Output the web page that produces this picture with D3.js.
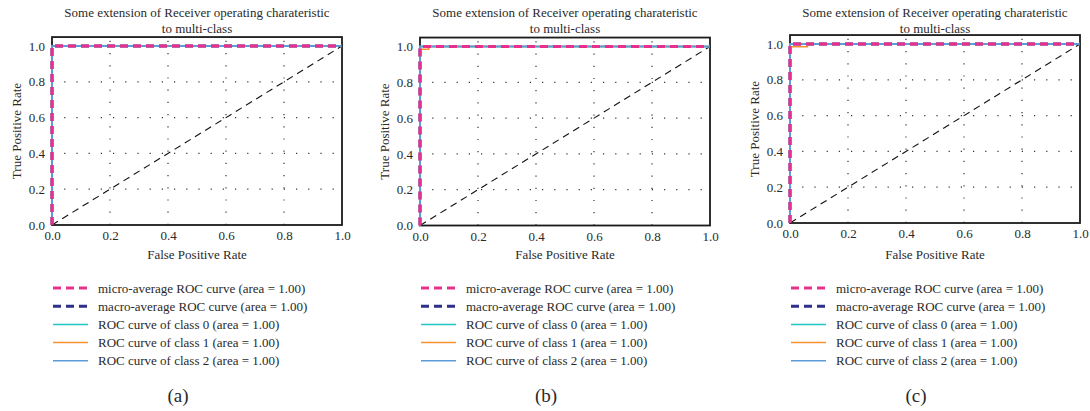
<!DOCTYPE html>
<html>
<head>
<meta charset="utf-8">
<script src="https://cdn.jsdelivr.net/npm/d3@7"></script>
<style>
  body { margin: 0; background: #fff; }
</style>
</head>
<body>
<div id="chart"></div>
<script>
// data
const panelNames = ["(a)", "(b)", "(c)"];
const titleLines = ["Some extension of Receiver operating charateristic", "to multi-class"];
const ticks = [0, 0.2, 0.4, 0.6, 0.8, 1.0];
const gridTicks = [0.2, 0.4, 0.6, 0.8];

const microFpr = [0, 0, 1];
const microTpr = [0, 1, 1];
const macroFpr = [0, 0, 1];
const macroTpr = [0, 1, 1];
const class0Fpr = [0, 0, 1];
const class0Tpr = [0, 1, 1];
const class2Fpr = [0, 0, 1];
const class2Tpr = [0, 1, 1];
// class 1 differs a little per panel
const class1Fpr = [[0, 0, 1], [0, 0, 0.03, 0.03, 1], [0, 0, 0.06, 0.06, 1]];
const class1Tpr = [[0, 1, 1], [0, 0.985, 0.985, 1, 1], [0, 0.985, 0.985, 1, 1]];
const chanceFpr = [0, 1];
const chanceTpr = [0, 1];

const legendLabels = [
  "micro-average ROC curve (area = 1.00)",
  "macro-average ROC curve (area = 1.00)",
  "ROC curve of class 0 (area = 1.00)",
  "ROC curve of class 1 (area = 1.00)",
  "ROC curve of class 2 (area = 1.00)"
];
const legendColors = ["#e8308a", "#2e2f88", "#1fc6c2", "#f5922f", "#5c9ad8"];
const legendDash = ["8,5", "8,5", null, null, null];

const FONT = "'Liberation Serif', 'Times New Roman', 'DejaVu Serif', serif";
const width = 1090, height = 411;
const panelX = [52, 420, 790];
const panelY0 = [225, 225.5, 223];
const plotW = 290, unitH = 179;

const svg = d3.select("#chart").append("svg")
    .attr("width", width)
    .attr("height", height)
    .attr("font-family", FONT);

function label(sel, size) {
  return sel.attr("font-family", FONT)
    .attr("font-size", size)
    .attr("fill", "#2a2a2a");
}

panelNames.forEach((name, p) => {
  const x = d3.scaleLinear().domain([0, 1]).range([panelX[p], panelX[p] + plotW]);
  const y = d3.scaleLinear().domain([0, 1]).range([panelY0[p], panelY0[p] - unitH]);
  const g = svg.append("g");
  const cx = panelX[p] + plotW / 2;

  // title
  titleLines.forEach((t, i) => {
    label(g.append("text"), 13)
      .attr("x", cx)
      .attr("y", 17 + i * 16)
      .attr("text-anchor", "middle")
      .text(t);
  });

  // grid
  g.selectAll(".vg").data(gridTicks).enter().append("line")
    .attr("x1", d => x(d)).attr("x2", d => x(d))
    .attr("y1", y(0)).attr("y2", y(1.05))
    .attr("stroke", "#333").attr("stroke-width", 1.2)
    .attr("stroke-dasharray", "1.2,11");
  g.selectAll(".hg").data(gridTicks).enter().append("line")
    .attr("x1", x(0)).attr("x2", x(1))
    .attr("y1", d => y(d)).attr("y2", d => y(d))
    .attr("stroke", "#333").attr("stroke-width", 1.2)
    .attr("stroke-dasharray", "1.2,11");

  // frame
  g.append("rect")
    .attr("x", x(0)).attr("y", y(1.05))
    .attr("width", plotW).attr("height", y(0) - y(1.05))
    .attr("fill", "none").attr("stroke", "#1a1a1a").attr("stroke-width", 1.8);

  // axes
  const xAxis = g.append("g")
    .attr("transform", `translate(0,${y(0)})`)
    .call(d3.axisBottom(x).tickValues(ticks).tickFormat(d3.format(".1f")).tickSize(0).tickPadding(6));
  const yAxis = g.append("g")
    .attr("transform", `translate(${x(0)},0)`)
    .call(d3.axisLeft(y).tickValues(ticks).tickFormat(d3.format(".1f")).tickSize(0).tickPadding(7));
  [xAxis, yAxis].forEach(a => {
    a.attr("font-family", FONT).attr("font-size", 13);
    a.select(".domain").remove();
    label(a.selectAll("text"), 13);
  });

  label(g.append("text"), 13)
    .attr("x", cx).attr("y", 259)
    .attr("text-anchor", "middle")
    .text("False Positive Rate");
  label(g.append("text"), 13)
    .attr("transform", `translate(${panelX[p] - 31},${(y(0) + y(1.05)) / 2}) rotate(-90)`)
    .attr("text-anchor", "middle")
    .text("True Positive Rate");

  // curves
  const line = d3.line().x(d => x(d[0])).y(d => y(d[1]));
  const zip = (a, b) => a.map((v, i) => [v, b[i]]);

  g.append("path").datum(zip(chanceFpr, chanceTpr))
    .attr("d", line).attr("fill", "none")
    .attr("stroke", "#111").attr("stroke-width", 1.1).attr("stroke-dasharray", "7,5");

  const curves = [
    { d: zip(macroFpr, macroTpr), c: legendColors[1], w: 3, dash: "8,5" },
    { d: zip(class0Fpr, class0Tpr), c: legendColors[2], w: 1.5 },
    { d: zip(class1Fpr[p], class1Tpr[p]), c: legendColors[3], w: 1.5 },
    { d: zip(class2Fpr, class2Tpr), c: legendColors[4], w: 2 },
    { d: zip(microFpr, microTpr), c: legendColors[0], w: 3, dash: "8,5" }
  ];
  curves.forEach(cv => {
    g.append("path").datum(cv.d)
      .attr("d", line).attr("fill", "none")
      .attr("stroke", cv.c).attr("stroke-width", cv.w)
      .attr("stroke-dasharray", cv.dash || null);
  });

  // legend
  const lg = g.append("g").attr("transform", `translate(${panelX[p] + 1},288)`);
  legendLabels.forEach((lab, i) => {
    lg.append("line")
      .attr("x1", 0).attr("x2", 35)
      .attr("y1", i * 18.2).attr("y2", i * 18.2)
      .attr("stroke", legendColors[i])
      .attr("stroke-width", legendDash[i] ? 3 : 1.5)
      .attr("stroke-dasharray", legendDash[i]);
    label(lg.append("text"), 13)
      .attr("x", 45).attr("y", i * 18.2 + 4.5)
      .text(lab);
  });

  label(g.append("text"), 19)
    .attr("x", panelX[p] + 126).attr("y", 402)
    .attr("text-anchor", "middle")
    .text(name);
});
</script>
</body>
</html>
